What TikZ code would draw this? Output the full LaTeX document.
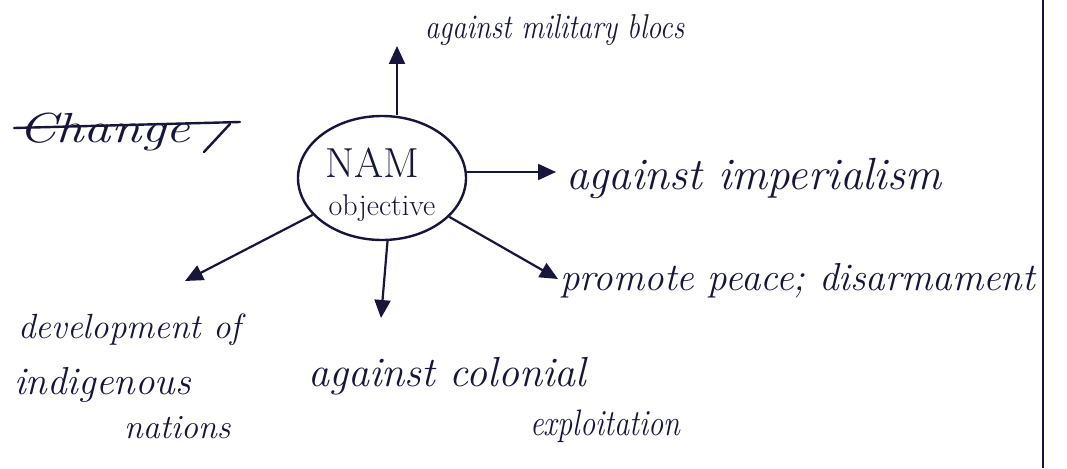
\documentclass[tikz,border=0pt]{standalone}
\usetikzlibrary{arrows.meta,shapes.geometric}
\definecolor{ink}{RGB}{22,22,58}
\newcommand{\handsize}[1]{\fontsize{#1}{#1}\selectfont\itshape}
\tikzset{
  hand/.style={text=ink,inner sep=0pt,anchor=west},
  link/.style={draw=ink,line width=2.2pt,-{Triangle[length=18pt,width=16pt]}},
  hub/.style={draw=ink,line width=2.4pt,ellipse,minimum width=168pt,minimum height=124pt,inner sep=0pt},
  strike/.style={draw=ink,line width=2.4pt,line cap=round},
}
\begin{document}
\begin{tikzpicture}[x=1pt,y=-1pt]
  \useasboundingbox (0,0) rectangle (1067,468);
  \fill[white] (0,0) rectangle (1067,468);

  % page edge on the right
  \coordinate (edgetop) at (1043,0);
  \coordinate (edgebot) at (1043,468);
  \draw[ink,line width=1.6pt] (edgetop) -- (edgebot);

  % central bubble
  \node[hub] (hub) at (382,178) {};
  \node[text=ink,inner sep=0pt,font=\fontsize{42}{42}\selectfont] (nam) at (372,163) {NAM};
  \node[text=ink,inner sep=0pt,font=\fontsize{30}{30}\selectfont] (obj) at (382,208) {objective};

  % struck-out word
  \node[hand,font=\handsize{42}] (chg) at (18,132) {\scalebox{1.3}[1]{Change}};
  \coordinate (strikeA) at (14,128);
  \coordinate (strikeB) at (240,122);
  \coordinate (hookA) at (230,124);
  \coordinate (hookB) at (204,152);
  \draw[strike] (strikeA) -- (strikeB);
  \draw[strike] (hookA) -- (hookB);

  % outcome labels
  \node[hand,font=\handsize{30}] (blocs) at (425,30) {\scalebox{0.95}[1.15]{against military blocs}};
  \node[hand,font=\handsize{45}] (imp) at (566,178) {against imperialism};
  \node[hand,font=\handsize{39}] (peace) at (560,281) {promote peace; disarmament};
  \node[hand,font=\handsize{35}] (dev1) at (18,330) {development of};
  \node[hand,font=\handsize{39}] (dev2) at (14,385) {indigenous};
  \node[hand,font=\handsize{34}] (dev3) at (124,428) {nations};
  \node[hand,font=\handsize{42}] (col1) at (308,376) {against colonial};
  \node[hand,font=\handsize{32}] (col2) at (530,426) {\scalebox{0.95}[1.15]{exploitation}};

  % arrow tips
  \coordinate (tipUp) at (397,46);
  \coordinate (tipRight) at (556,172);
  \coordinate (tipDR) at (558,279);
  \coordinate (tipDown) at (381,318);
  \coordinate (tipDL) at (185,281);

  \draw[link] (hub.north -| tipUp) -- (tipUp);
  \draw[link] (hub.east |- tipRight) -- (tipRight);
  \draw[link] (hub.-30) -- (tipDR);
  \draw[link] (hub.-85) -- (tipDown);
  \draw[link] (hub.208) -- (tipDL);
\end{tikzpicture}
\end{document}
